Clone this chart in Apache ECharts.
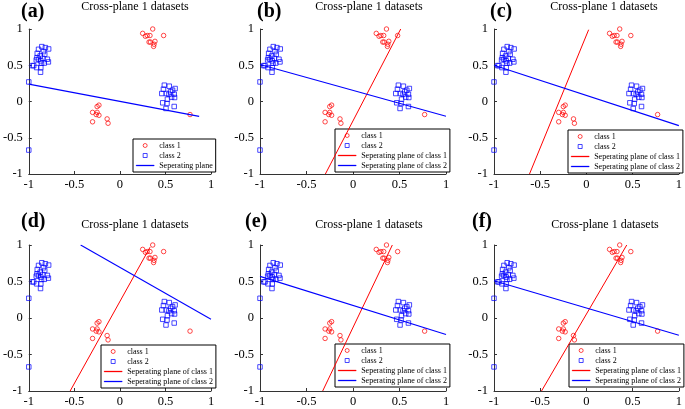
<!DOCTYPE html>
<html>
<head>
<meta charset="utf-8">
<script src="https://cdn.jsdelivr.net/npm/echarts@6/dist/echarts.min.js"></script>
<style>
html,body{margin:0;padding:0;background:#fff;}
#chart{width:685px;height:409px;}
</style>
</head>
<body>
<div id="chart"></div>
<script>
// ---- data ----
const panelLetters = ['(a)', '(b)', '(c)', '(d)', '(e)', '(f)'];
const panelTitle = 'Cross-plane 1 datasets';
const axisTicks = [-1, -0.5, 0, 0.5, 1];

// class 1 (red circles)
const class1 = [
  [0.25, 0.94], [0.28, 0.90], [0.30, 0.91], [0.33, 0.91], [0.36, 1.00], [0.48, 0.91],
  [0.32, 0.82], [0.335, 0.82], [0.385, 0.83], [0.375, 0.79], [0.37, 0.76],
  [-0.23, -0.05], [-0.25, -0.07], [-0.30, -0.15], [-0.25, -0.15], [-0.26, -0.18],
  [-0.23, -0.19], [-0.30, -0.28], [-0.14, -0.24], [-0.13, -0.30],
  [0.77, -0.18]
];
// class 2 (blue squares)
const class2 = [
  [-0.857, 0.757], [-0.893, 0.72], [-0.818, 0.743], [-0.782, 0.725], [-0.839, 0.688],
  [-0.907, 0.665], [-0.875, 0.628], [-0.825, 0.651], [-0.91, 0.605], [-0.893, 0.583],
  [-0.868, 0.56], [-0.796, 0.583], [-0.785, 0.546], [-0.846, 0.596], [-0.86, 0.528],
  [-0.946, 0.495], [-0.914, 0.468], [-0.868, 0.468], [-0.871, 0.404], [-0.83, 0.53],
  [-0.96, 0.495], [-0.918, 0.573],
  [0.488, 0.225], [0.478, 0.17], [0.542, 0.211], [0.578, 0.156], [0.606, 0.179],
  [0.556, 0.133], [0.46, 0.11], [0.51, 0.11], [0.538, 0.10], [0.596, 0.10],
  [0.567, 0.06], [0.60, 0.055], [0.522, 0.032], [0.47, -0.018], [0.517, -0.028],
  [0.596, -0.069], [0.506, -0.096],
  [-1, 0.27], [-1, -0.67]
];

// separating planes (endpoints) per panel; null = not drawn
const planeClass1 = [
  null,
  [[-0.297, -1], [0.513, 1.0]],
  [[-0.616, -1], [0.024, 0.99]],
  [[-0.546, -1], [0.331, 0.97]],
  [[-0.326, -1], [0.423, 1.0]],
  [[-0.486, -1], [0.436, 1.0]]
];
const planeClass2 = [
  [[-1, 0.24], [0.87, -0.205]],
  [[-1, 0.51], [1, -0.204]],
  [[-1, 0.50], [1, -0.333]],
  [[-0.431, 1.0], [1, -0.016]],
  [[-1, 0.57], [1, -0.227]],
  [[-1, 0.51], [1, -0.236]]
];
const legendNames = [
  ['class 1', 'class 2', 'Seperating plane'],
  ['class 1', 'class 2', 'Seperating plane of class 1', 'Seperating plane of class 2'],
  ['class 1', 'class 2', 'Seperating plane of class 1', 'Seperating plane of class 2'],
  ['class 1', 'class 2', 'Seperating plane of class 1', 'Seperating plane of class 2'],
  ['class 1', 'class 2', 'Seperating plane of class 1', 'Seperating plane of class 2'],
  ['class 1', 'class 2', 'Seperating plane of class 1', 'Seperating plane of class 2']
];

// ---- layout ----
const SERIF = '"Liberation Serif", "Times New Roman", serif';
const RED = '#ff0000', BLUE = '#0000ff', AXIS = '#333';
const grids = [
  {left: 24, top: 29, width: 187, height: 145},
  {left: 260, top: 29, width: 186, height: 145},
  {left: 494, top: 29, width: 185, height: 145},
  {left: 24, top: 245, width: 187, height: 146},
  {left: 260, top: 245, width: 186, height: 146},
  {left: 494, top: 245, width: 185, height: 146}
];
const legendPos = [
  {left: 133, top: 139}, {left: 335, top: 129}, {left: 568, top: 130},
  {left: 101, top: 345}, {left: 335, top: 344}, {left: 569, top: 344}
];
const letterPos = [
  {left: 21, top: 2}, {left: 257, top: 2}, {left: 490, top: 2},
  {left: 21, top: 212}, {left: 245, top: 212}, {left: 472, top: 212}
];
const titleCenter = [
  {left: 135, top: 1}, {left: 369, top: 1}, {left: 604, top: 1},
  {left: 135, top: 219}, {left: 369, top: 219}, {left: 605, top: 219}
];

const LINE_ICON = 'path://M0,0H18V1H0Z';
const SQUARE_ICON = 'path://M0,0H4V4H0Z';
function legendItem(name) {
  if (name === 'class 1') {
    return {name, icon: 'circle',
      itemStyle: {color: '#fff', borderColor: RED, borderWidth: 0.9}};
  }
  if (name === 'class 2') {
    return {name, icon: SQUARE_ICON,
      itemStyle: {color: '#fff', borderColor: BLUE, borderWidth: 0.9}};
  }
  const c = name === 'Seperating plane of class 1' ? RED : BLUE;
  return {name, icon: LINE_ICON,
    itemStyle: {color: c, borderColor: c, borderWidth: 0.3},
    lineStyle: {color: c, width: 1}};
}

const xAxes = [], yAxes = [], series = [], titles = [], legends = [];
grids.forEach((g, i) => {
  const axisCommon = {
    type: 'value', gridIndex: i,
    min: axisTicks[0], max: axisTicks[axisTicks.length - 1],
    interval: axisTicks[1] - axisTicks[0],
    splitLine: {show: false},
    axisLine: {show: true, onZero: false, lineStyle: {color: AXIS, width: 1}},
    axisTick: {show: true, inside: true, length: 3, lineStyle: {color: AXIS}},
    axisLabel: {fontFamily: SERIF, fontSize: 12.5, color: '#000'}
  };
  xAxes.push(Object.assign({}, axisCommon, {
    axisLabel: Object.assign({}, axisCommon.axisLabel, {margin: 4})
  }));
  yAxes.push(Object.assign({}, axisCommon, {
    axisLabel: Object.assign({}, axisCommon.axisLabel, {margin: 6})
  }));
  series.push({
    type: 'scatter', name: 'class 1', xAxisIndex: i, yAxisIndex: i,
    data: class1, symbol: 'circle', symbolSize: 4.5, clip: false,
    itemStyle: {color: 'rgba(255,255,255,0)', borderColor: RED, borderWidth: 0.9}, z: 3
  });
  series.push({
    type: 'scatter', name: 'class 2', xAxisIndex: i, yAxisIndex: i,
    data: class2, symbol: 'rect', symbolSize: 4.5, clip: false,
    itemStyle: {color: 'rgba(255,255,255,0)', borderColor: BLUE, borderWidth: 0.9}, z: 3
  });
  if (planeClass1[i]) {
    series.push({
      type: 'line', name: 'Seperating plane of class 1', xAxisIndex: i, yAxisIndex: i,
      data: planeClass1[i], symbol: 'none', animation: false,
      lineStyle: {color: RED, width: 1}, itemStyle: {color: RED}, z: 4
    });
  }
  series.push({
    type: 'line', name: i === 0 ? 'Seperating plane' : 'Seperating plane of class 2',
    xAxisIndex: i, yAxisIndex: i,
    data: planeClass2[i], symbol: 'none', animation: false,
    lineStyle: {color: BLUE, width: 1.1}, itemStyle: {color: BLUE}, z: 4
  });
  titles.push({
    text: panelLetters[i], left: letterPos[i].left, top: letterPos[i].top, padding: 0,
    textStyle: {fontFamily: SERIF, fontSize: 20, fontWeight: 'bold', color: '#000'}
  });
  titles.push({
    text: panelTitle, left: titleCenter[i].left, top: titleCenter[i].top, padding: 0,
    textAlign: 'center',
    textStyle: {fontFamily: SERIF, fontSize: 12, fontWeight: 'normal', color: '#000'}
  });
  legends.push({
    data: legendNames[i].map(legendItem), orient: 'vertical',
    left: legendPos[i].left, top: legendPos[i].top,
    padding: [2, 3, 2, 3], itemGap: 1, itemWidth: 18, itemHeight: 4,
    symbolKeepAspect: true,
    borderColor: '#000', borderWidth: 1, borderRadius: 0, backgroundColor: '#fff',
    selectedMode: false,
    textStyle: {fontFamily: SERIF, fontSize: 8, color: '#000', lineHeight: 9}
  });
});

const chart = echarts.init(document.getElementById('chart'), null, {renderer: 'canvas'});
chart.setOption({
  animation: false,
  backgroundColor: '#fff',
  title: titles,
  legend: legends,
  grid: grids,
  xAxis: xAxes,
  yAxis: yAxes,
  series: series
});
</script>
</body>
</html>
